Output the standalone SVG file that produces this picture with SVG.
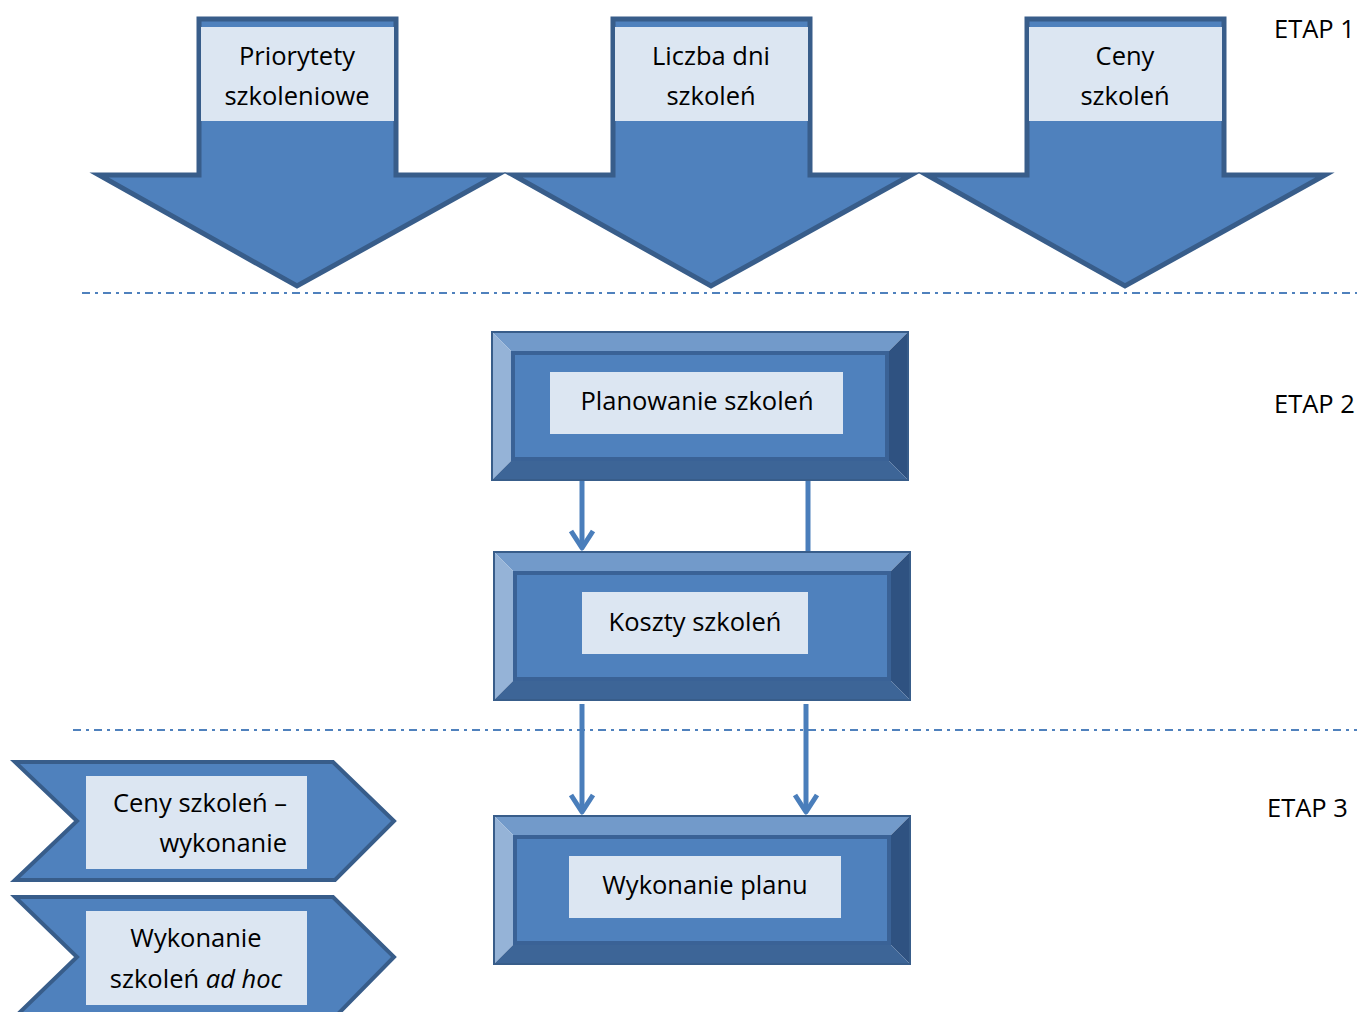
<svg xmlns="http://www.w3.org/2000/svg" width="1357" height="1012" viewBox="0 0 1357 1012">
  <style>
    .arrow { fill: #4f81bd; stroke: #385d8a; stroke-width: 5; stroke-linejoin: miter; }
    .chev { fill: #4f81bd; stroke: #385d8a; stroke-width: 4; }
    .lbl { fill: #dce6f2; }
    .txt { font-family: "Open Sans", "Liberation Sans", sans-serif; font-size: 25.5px; fill: #000; }
    .mid { text-anchor: middle; }
    .end { text-anchor: end; }
    .sep { stroke: #4f81bd; stroke-width: 2; stroke-dasharray: 8 5 3 5; fill: none; }
    .bt { fill: #729aca; }
    .bl { fill: #95b3d7; }
    .br { fill: #2f5281; }
    .bb { fill: #3d6597; }
    .face { fill: #4f81bd; stroke: #3a6296; stroke-width: 4; }
    .frame { fill: none; stroke: #385d8a; stroke-width: 2; }
    .conn { stroke: #4a7ebb; stroke-width: 5; fill: none; stroke-linejoin: round; }
  </style>

  <rect width="1357" height="1012" fill="#ffffff"/>

  <!-- separators between stages -->
  <line class="sep" x1="82" y1="293" x2="1357" y2="293"/>
  <line class="sep" x1="73" y1="730" x2="1357" y2="730"/>

  <!-- stage labels -->
  <text class="txt" x="1274" y="38">ETAP 1</text>
  <text class="txt" x="1274" y="413">ETAP 2</text>
  <text class="txt" x="1267" y="817">ETAP 3</text>

  <!-- stage 1: input arrows -->
  <g id="priorytety">
    <path class="arrow" d="M199,19 H396 V175 H497 L297,286 L99,175 H199 Z"/>
    <rect class="lbl" x="201" y="27" width="193" height="94"/>
    <text class="txt mid" x="297" y="65">Priorytety</text>
    <text class="txt mid" x="297" y="105">szkoleniowe</text>
  </g>
  <g id="liczba-dni">
    <path class="arrow" d="M613,19 H810 V175 H911 L711,286 L513,175 H613 Z"/>
    <rect class="lbl" x="615" y="27" width="193" height="94"/>
    <text class="txt mid" x="711" y="65">Liczba dni</text>
    <text class="txt mid" x="711" y="105">szkoleń</text>
  </g>
  <g id="ceny">
    <path class="arrow" d="M1027,19 H1224 V175 H1325 L1125,286 L927,175 H1027 Z"/>
    <rect class="lbl" x="1029" y="27" width="193" height="94"/>
    <text class="txt mid" x="1125" y="65">Ceny</text>
    <text class="txt mid" x="1125" y="105">szkoleń</text>
  </g>

  <!-- stage 2: planning -->
  <g id="planowanie">
    <polygon class="bt" points="492,332 908,332 888,352 512,352"/>
    <polygon class="bl" points="492,332 512,352 512,460 492,480"/>
    <polygon class="br" points="908,332 908,480 888,460 888,352"/>
    <polygon class="bb" points="492,480 908,480 888,460 512,460"/>
    <rect class="face" x="513" y="353" width="374" height="106"/>
    <rect class="frame" x="492" y="332" width="416" height="148"/>
    <rect class="lbl" x="550" y="372" width="293" height="62"/>
    <text class="txt mid" x="697" y="410">Planowanie szkoleń</text>
  </g>

  <g id="koszty">
    <polygon class="bt" points="494,552 910,552 890,572 514,572"/>
    <polygon class="bl" points="494,552 514,572 514,680 494,700"/>
    <polygon class="br" points="910,552 910,700 890,680 890,572"/>
    <polygon class="bb" points="494,700 910,700 890,680 514,680"/>
    <rect class="face" x="515" y="573" width="374" height="106"/>
    <rect class="frame" x="494" y="552" width="416" height="148"/>
    <rect class="lbl" x="582" y="592" width="226" height="62"/>
    <text class="txt mid" x="695" y="631">Koszty szkoleń</text>
  </g>

  <!-- stage 3: execution -->
  <g id="wykonanie-planu">
    <polygon class="bt" points="494,816 910,816 890,836 514,836"/>
    <polygon class="bl" points="494,816 514,836 514,944 494,964"/>
    <polygon class="br" points="910,816 910,964 890,944 890,836"/>
    <polygon class="bb" points="494,964 910,964 890,944 514,944"/>
    <rect class="face" x="515" y="837" width="374" height="106"/>
    <rect class="frame" x="494" y="816" width="416" height="148"/>
    <rect class="lbl" x="569" y="856" width="272" height="62"/>
    <text class="txt mid" x="705" y="894">Wykonanie planu</text>
  </g>

  <g id="ceny-wykonanie">
    <path class="chev" d="M15,762 H333 L394,821 L335,880 H15 L77,821 Z"/>
    <rect class="lbl" x="86" y="776" width="221" height="93"/>
    <text class="txt end" x="287" y="812">Ceny szkoleń –</text>
    <text class="txt end" x="287" y="852">wykonanie</text>
  </g>

  <g id="ad-hoc">
    <path class="chev" d="M15,897 H333 L394,957 L335,1017 H15 L77,957 Z"/>
    <rect class="lbl" x="86" y="911" width="221" height="94"/>
    <text class="txt mid" x="196" y="947">Wykonanie</text>
    <text class="txt mid" x="196" y="988">szkoleń <tspan font-style="italic">ad hoc</tspan></text>
  </g>

  <!-- connectors -->
  <g id="connectors">
    <line class="conn" x1="582" y1="481" x2="582" y2="548"/>
    <path class="conn" d="M571,531 L582,548 L593,531"/>
    <line class="conn" x1="808" y1="481" x2="808" y2="551"/>
    <line class="conn" x1="582" y1="704" x2="582" y2="812"/>
    <path class="conn" d="M571,795 L582,812 L593,795"/>
    <line class="conn" x1="806" y1="704" x2="806" y2="812"/>
    <path class="conn" d="M795,795 L806,812 L817,795"/>
  </g>
</svg>
